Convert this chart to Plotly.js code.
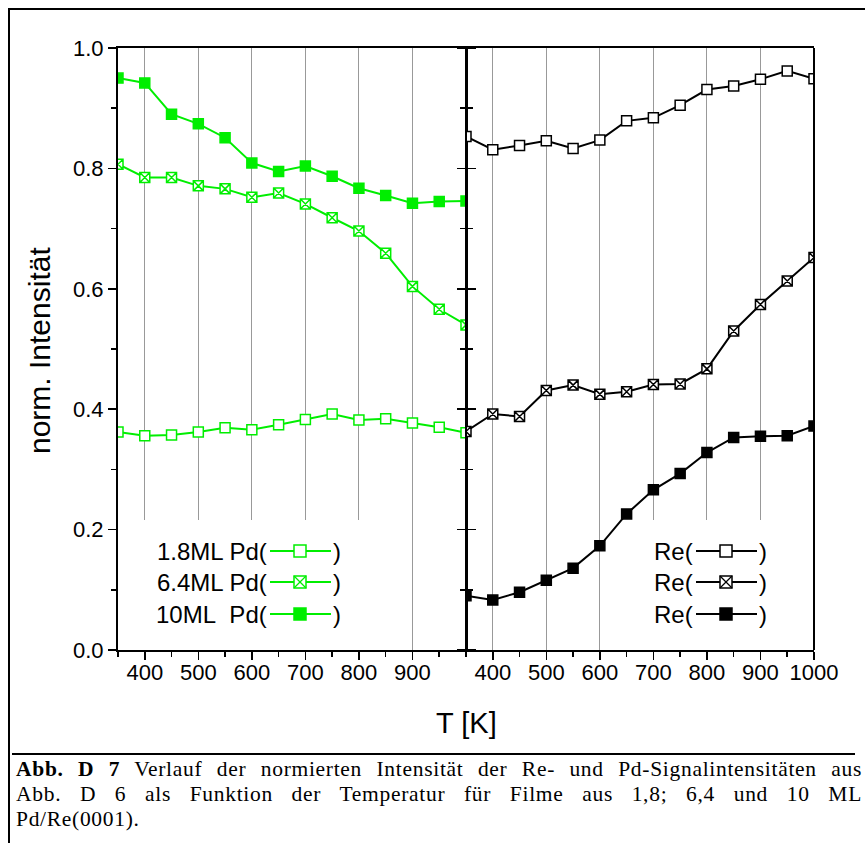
<!DOCTYPE html>
<html>
<head>
<meta charset="utf-8">
<script src="https://cdn.plot.ly/plotly-3.0.1.min.js"></script>
<style>
  body { margin: 0; background: #fff; }
  #wrap { position: relative; width: 865px; height: 843px; overflow: hidden; background: #fff; }
  #chart { position: absolute; left: 0; top: 0; width: 865px; height: 843px; }
  #frame { position: absolute; left: 8px; top: 8px; width: 1000px; height: 1000px;
           border-top: 2px solid #000; border-left: 2px solid #000; pointer-events: none; }
  #sep { position: absolute; left: 12px; top: 753px; width: 843px; height: 2px; background: #000; }
  #caption { position: absolute; left: 16px; top: 757px; width: 846px;
             font-family: 'Liberation Serif', 'Times New Roman', serif; font-size: 21.5px; line-height: 25px;
             letter-spacing: 0.7px; color: #000; }
  #caption .j { text-align: justify; text-align-last: justify; white-space: nowrap; }
</style>
</head>
<body>
<div id="wrap">
  <div id="chart"></div>
  <div id="frame"></div>
  <div id="sep"></div>
  <div id="caption">
    <div class="j"><b>Abb. D 7</b> Verlauf der normierten Intensität der Re- und Pd-Signalintensitäten aus</div>
    <div class="j">Abb. D 6 als Funktion der Temperatur für Filme aus 1,8; 6,4 und 10&nbsp;ML</div>
    <div>Pd/Re(0001).</div>
  </div>
</div>
<script>
// ---------------- data ----------------
const temperatureK = [350, 400, 450, 500, 550, 600, 650, 700, 750, 800, 850, 900, 950, 1000];

// Pd signal (left panel, green)
const pd18 = [0.362, 0.356, 0.357, 0.362, 0.369, 0.366, 0.374, 0.383, 0.392, 0.382, 0.384, 0.377, 0.370, 0.361];
const pd64 = [0.807, 0.785, 0.785, 0.771, 0.766, 0.752, 0.759, 0.741, 0.718, 0.696, 0.659, 0.604, 0.566, 0.540];
const pd10 = [0.950, 0.942, 0.890, 0.874, 0.851, 0.809, 0.795, 0.804, 0.787, 0.767, 0.755, 0.742, 0.745, 0.746];

// Re signal (right panel, black)
const re18 = [0.853, 0.831, 0.838, 0.846, 0.833, 0.847, 0.879, 0.884, 0.905, 0.931, 0.937, 0.948, 0.962, 0.949];
const re64 = [0.363, 0.392, 0.388, 0.431, 0.440, 0.425, 0.429, 0.441, 0.442, 0.467, 0.530, 0.574, 0.613, 0.652];
const re10 = [0.090, 0.083, 0.096, 0.116, 0.136, 0.173, 0.226, 0.266, 0.293, 0.328, 0.353, 0.355, 0.356, 0.372];

const xTicksLeft = [400, 500, 600, 700, 800, 900];
const xTicksRight = [400, 500, 600, 700, 800, 900, 1000];
const yTicks = [0.0, 0.2, 0.4, 0.6, 0.8, 1.0];

const legendLabelsPd = ['1.8ML Pd(', '6.4ML Pd(', '10ML\u00a0\u00a0Pd('];
const legendLabelsRe = ['Re(', 'Re(', 'Re('];
const yTitle = 'norm. Intensität';
const xTitle = 'T [K]';

// ---------------- styles ----------------
const GREEN = '#00ee00';
const BLACK = '#000000';
const FONT = 'Liberation Sans, Arial, sans-serif';
const symbols = ['square', 'square-x', 'square'];
const fills = (c) => ['#ffffff', '#ffffff', c];

function series(x, y, color, symIdx, xa, ya, name) {
  return {
    x: x, y: y, xaxis: xa, yaxis: ya, name: name, showlegend: false,
    type: 'scatter', mode: 'lines+markers',
    line: { color: color, width: 2 },
    marker: { symbol: symbols[symIdx], size: 10, color: fills(color)[symIdx],
              line: { color: color, width: 1.5 } },
    cliponaxis: true
  };
}

const traces = [
  series(temperatureK, pd18, GREEN, 0, 'x', 'y', '1.8ML Pd'),
  series(temperatureK, pd64, GREEN, 1, 'x', 'y', '6.4ML Pd'),
  series(temperatureK, pd10, GREEN, 2, 'x', 'y', '10ML Pd'),
  series(temperatureK, re18, BLACK, 0, 'x2', 'y2', 'Re (1.8ML)'),
  series(temperatureK, re64, BLACK, 1, 'x2', 'y2', 'Re (6.4ML)'),
  series(temperatureK, re10, BLACK, 2, 'x2', 'y2', 'Re (10ML)')
];

// ---------------- geometry (pixels) ----------------
const M = { l: 118, r: 51, t: 48, b: 193 };
const PW = 865 - M.l - M.r, PH = 843 - M.t - M.b;
const px = (x) => (x - M.l) / PW;
const py = (y) => (M.t + PH - y) / PH;

const legendRows = [551, 582, 614];
const legendLeft = { textRight: 269, lineX0: 270, lineX1: 331, mark: 300, close: 331 };
const legendRight = { textRight: 695, lineX0: 696, lineX1: 757, mark: 726, close: 757 };

const shapes = [
  // white legend backgrounds (cut the grid lines)
  { type: 'rect', xref: 'x', yref: 'y', x0: 350, x1: 880, y0: 0, y1: 0.216,
    fillcolor: '#ffffff', line: { width: 0 }, layer: 'between' },
  { type: 'rect', xref: 'x2', yref: 'y2', x0: 620, x1: 1000, y0: 0, y1: 0.216,
    fillcolor: '#ffffff', line: { width: 0 }, layer: 'between' },
  // middle divider and right frame line of the Re panel
  { type: 'line', xref: 'x2 domain', yref: 'y2 domain', x0: 0, x1: 0, y0: 0, y1: 1,
    line: { color: '#000', width: 2 }, layer: 'above' },
  { type: 'line', xref: 'x2 domain', yref: 'y2 domain', x0: 1, x1: 1, y0: 0, y1: 1,
    line: { color: '#000', width: 2 }, layer: 'above' }
];
const annotations = [];

function legendKey(cfg, rowY, symIdx, color, label) {
  const half = 6;
  shapes.push({ type: 'line', xref: 'paper', yref: 'paper',
    x0: px(cfg.lineX0), x1: px(cfg.lineX1), y0: py(rowY), y1: py(rowY),
    line: { color: color, width: 2 } });
  shapes.push({ type: 'rect', xref: 'paper', yref: 'paper',
    x0: px(cfg.mark - half), x1: px(cfg.mark + half), y0: py(rowY + half), y1: py(rowY - half),
    fillcolor: fills(color)[symIdx], line: { color: color, width: 1.5 } });
  if (symIdx === 1) {
    shapes.push({ type: 'line', xref: 'paper', yref: 'paper',
      x0: px(cfg.mark - half), x1: px(cfg.mark + half), y0: py(rowY - half), y1: py(rowY + half),
      line: { color: color, width: 1.2 } });
    shapes.push({ type: 'line', xref: 'paper', yref: 'paper',
      x0: px(cfg.mark - half), x1: px(cfg.mark + half), y0: py(rowY + half), y1: py(rowY - half),
      line: { color: color, width: 1.2 } });
  }
  annotations.push({ xref: 'paper', yref: 'paper', x: px(cfg.textRight), y: py(rowY),
    xanchor: 'right', yanchor: 'middle', text: label, showarrow: false,
    font: { family: FONT, size: 24, color: '#000' } });
  annotations.push({ xref: 'paper', yref: 'paper', x: px(cfg.close), y: py(rowY),
    xanchor: 'left', yanchor: 'middle', text: ')', showarrow: false,
    font: { family: FONT, size: 24, color: '#000' } });
}
for (let i = 0; i < 3; i++) {
  legendKey(legendLeft, legendRows[i], i, GREEN, legendLabelsPd[i]);
  legendKey(legendRight, legendRows[i], i, BLACK, legendLabelsRe[i]);
}

annotations.push({ xref: 'paper', yref: 'paper', x: px(39), y: py(351),
  xanchor: 'center', yanchor: 'middle', textangle: -90, text: yTitle, showarrow: false,
  font: { family: FONT, size: 30, color: '#000' } });
annotations.push({ xref: 'paper', yref: 'paper', x: 0.5, y: py(723),
  xanchor: 'center', yanchor: 'middle', text: xTitle, showarrow: false,
  font: { family: FONT, size: 29, color: '#000' } });

// ---------------- axes ----------------
function xAxis(domain, anchor, ticks) {
  return {
    domain: domain, anchor: anchor, range: [350, 1000], autorange: false,
    tickmode: 'array', tickvals: ticks, ticks: 'outside', ticklen: 8, tickwidth: 1.5, tickcolor: '#000',
    ticklabelstandoff: -6,
    showline: true, linewidth: 2, linecolor: '#000', mirror: true,
    showgrid: true, gridcolor: '#999999', gridwidth: 1, zeroline: false,
    minor: { tickmode: 'linear', tick0: 350, dtick: 50, ticks: 'outside', ticklen: 5, tickwidth: 1.5,
             tickcolor: '#000', showgrid: false },
    tickfont: { family: FONT, size: 22, color: '#000' }
  };
}
function yAxis(anchor, labels, mirror, line) {
  return {
    anchor: anchor, domain: [0, 1], range: [0, 1], autorange: false,
    tickmode: 'array', tickvals: yTicks, tickformat: '.1f', showticklabels: labels,
    ticks: 'outside', ticklen: 8, tickwidth: 1.5, tickcolor: '#000',
    showline: line, linewidth: 2, linecolor: '#000', mirror: mirror,
    showgrid: false, zeroline: false,
    minor: { tickmode: 'linear', tick0: 0, dtick: 0.1, ticks: 'outside', ticklen: 5, tickwidth: 1.5,
             tickcolor: '#000', showgrid: false },
    tickfont: { family: FONT, size: 22, color: '#000' }
  };
}

const layout = {
  width: 865, height: 843,
  margin: M,
  paper_bgcolor: 'rgba(0,0,0,0)', plot_bgcolor: '#ffffff',
  showlegend: false,
  xaxis: xAxis([0, 0.5], 'y', xTicksLeft),
  xaxis2: xAxis([0.5, 1], 'y2', xTicksRight),
  yaxis: yAxis('x', true, 'ticks', true),
  yaxis2: yAxis('x2', false, false, false),
  shapes: shapes,
  annotations: annotations,
  font: { family: FONT, color: '#000' }
};

Plotly.newPlot('chart', traces, layout, { staticPlot: true, displayModeBar: false });
</script>
</body>
</html>
